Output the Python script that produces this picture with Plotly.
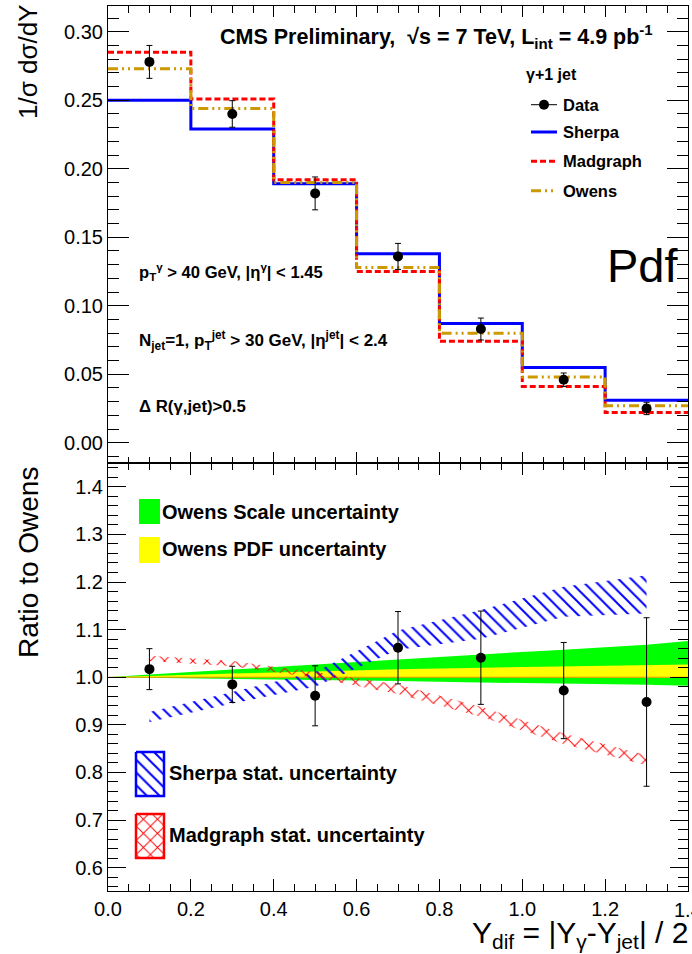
import plotly.graph_objects as go

# ---------------- data ----------------
edges = [0.0, 0.2, 0.4, 0.6, 0.8, 1.0, 1.2, 1.4]
centers = [0.1, 0.3, 0.5, 0.7, 0.9, 1.1, 1.3]
sherpa = [0.250, 0.229, 0.189, 0.138, 0.087, 0.055, 0.031]
madgraph = [0.285, 0.251, 0.192, 0.125, 0.074, 0.041, 0.022]
owens = [0.273, 0.244, 0.190, 0.128, 0.080, 0.048, 0.027]
data = [0.278, 0.240, 0.182, 0.136, 0.083, 0.046, 0.025]
data_err = [0.012, 0.0097, 0.012, 0.0095, 0.008, 0.0049, 0.0045]

ratio = [1.017, 0.985, 0.961, 1.062, 1.041, 0.972, 0.948]
ratio_err = [0.043, 0.038, 0.063, 0.076, 0.098, 0.101, 0.177]

sherpa_lo = [0.906, 0.945, 0.980, 1.058, 1.081, 1.127, 1.134]
sherpa_hi = [0.927, 0.969, 1.011, 1.098, 1.141, 1.190, 1.214]
mad_lo = [1.034, 1.023, 0.999, 0.965, 0.917, 0.860, 0.815]
mad_hi = [1.045, 1.034, 1.011, 0.985, 0.938, 0.882, 0.836]

band_x = [0.0, 0.1, 0.3, 0.5, 0.7, 0.9, 1.1, 1.3, 1.4]
scale_hi = [1.000, 1.006, 1.016, 1.027, 1.038, 1.048, 1.058, 1.068, 1.076]
scale_lo = [1.000, 0.999, 0.997, 0.994, 0.992, 0.989, 0.986, 0.984, 0.982]
pdf_hi = [1.000, 1.003, 1.008, 1.012, 1.017, 1.020, 1.023, 1.026, 1.027]
pdf_lo = [1.000, 1.000, 0.9995, 0.9995, 0.999, 0.999, 0.999, 0.999, 0.999]

# ---------------- style ----------------
W, H = 692, 954
PL, PR, PT, PB = 108, 688, 6, 891
SPLIT = 463
FONT = "Liberation Sans, Arial, Helvetica, sans-serif"
BLUE = "#0000ff"
RED = "#ff0000"
GOLD = "rgb(204,153,0)"
SHERPA_DASH = None
MAD_DASH = "6px,3px"
OWENS_DASH = "10px,4px,2px,4px,2px,4px"
SHERPA_PAT = dict(shape="\\", fgcolor=BLUE, bgcolor="rgba(0,0,0,0)", size=9, solidity=0.22, fgopacity=1)
MAD_PAT = dict(shape="x", fgcolor=RED, bgcolor="rgba(0,0,0,0)", size=10, solidity=0.18, fgopacity=1)


def fx(px):
    return (px - PL) / (PR - PL)


def fy(py):
    return (PB - py) / (PB - PT)


split_frac = fy(SPLIT)

fig = go.Figure()

# ---------- top panel ----------
for vals, col, dash in [(sherpa, BLUE, SHERPA_DASH), (madgraph, RED, MAD_DASH), (owens, GOLD, OWENS_DASH)]:
    fig.add_trace(go.Scatter(x=edges, y=vals + [vals[-1]], mode="lines", line_shape="hv",
                             line=dict(color=col, width=3, dash=dash), xaxis="x", yaxis="y",
                             hoverinfo="skip"))

fig.add_trace(go.Scatter(x=centers, y=data, mode="markers", xaxis="x", yaxis="y",
                         marker=dict(color="black", size=10),
                         error_y=dict(type="data", array=data_err, color="black", thickness=1, width=3)))

# ---------- lower panel ----------
def band(xs, lo, hi):
    return xs + xs[::-1], hi + lo[::-1]

bx, by = band(band_x, scale_lo, scale_hi)
fig.add_trace(go.Scatter(x=bx, y=by, fill="toself", fillcolor="#00ff00", mode="lines",
                         line=dict(width=0, color="rgba(0,0,0,0)"), xaxis="x2", yaxis="y2", hoverinfo="skip"))
bx, by = band(band_x, pdf_lo, pdf_hi)
fig.add_trace(go.Scatter(x=bx, y=by, fill="toself", fillcolor="#ffff00", mode="lines",
                         line=dict(width=0, color="rgba(0,0,0,0)"), xaxis="x2", yaxis="y2", hoverinfo="skip"))
fig.add_trace(go.Scatter(x=[band_x[0], band_x[-1]], y=[1.0, 1.0], mode="lines",
                         line=dict(width=1, color="rgb(230,150,0)"), xaxis="x2", yaxis="y2", hoverinfo="skip"))

bx, by = band(centers, sherpa_lo, sherpa_hi)
fig.add_trace(go.Scatter(x=bx, y=by, fill="toself", fillcolor="rgba(0,0,0,0)", mode="lines",
                         fillpattern=SHERPA_PAT,
                         line=dict(width=0, color="rgba(0,0,0,0)"), xaxis="x2", yaxis="y2", hoverinfo="skip"))
bx, by = band(centers, mad_lo, mad_hi)
fig.add_trace(go.Scatter(x=bx, y=by, fill="toself", fillcolor="rgba(0,0,0,0)", mode="lines",
                         fillpattern=MAD_PAT,
                         line=dict(width=0, color="rgba(0,0,0,0)"), xaxis="x2", yaxis="y2", hoverinfo="skip"))

fig.add_trace(go.Scatter(x=centers, y=ratio, mode="markers", xaxis="x2", yaxis="y2",
                         marker=dict(color="black", size=10),
                         error_y=dict(type="data", array=ratio_err, color="black", thickness=1, width=3)))

# ---------- legend keys (overlay axis in plot-area fractions) ----------
leg_x0, leg_x1, leg_xm = 531, 557, 544
leg_rows = {"Data": 104.7, "Sherpa": 132, "Madgraph": 161.3, "Owens": 190.7}
fig.add_trace(go.Scatter(x=[fx(leg_x0), fx(leg_x1)], y=[fy(leg_rows["Data"])] * 2, mode="lines",
                         line=dict(color="black", width=1), xaxis="x3", yaxis="y3", hoverinfo="skip"))
fig.add_trace(go.Scatter(x=[fx(leg_xm)], y=[fy(leg_rows["Data"])], mode="markers",
                         marker=dict(color="black", size=10), xaxis="x3", yaxis="y3", hoverinfo="skip"))
for name, col, dash in [("Sherpa", BLUE, SHERPA_DASH), ("Madgraph", RED, MAD_DASH), ("Owens", GOLD, OWENS_DASH)]:
    fig.add_trace(go.Scatter(x=[fx(leg_x0), fx(leg_x1)], y=[fy(leg_rows[name])] * 2, mode="lines",
                             line=dict(color=col, width=3, dash=dash), xaxis="x3", yaxis="y3", hoverinfo="skip"))

def box(x0, x1, y0, y1):
    return ([fx(x0), fx(x1), fx(x1), fx(x0), fx(x0)], [fy(y0), fy(y0), fy(y1), fy(y1), fy(y0)])

bxs, bys = box(136, 164, 752, 796)
fig.add_trace(go.Scatter(x=bxs, y=bys, fill="toself", fillcolor="rgba(0,0,0,0)", mode="lines",
                         fillpattern=SHERPA_PAT,
                         line=dict(color=BLUE, width=2.5), xaxis="x3", yaxis="y3", hoverinfo="skip"))
bxs, bys = box(136, 164, 814, 858)
fig.add_trace(go.Scatter(x=bxs, y=bys, fill="toself", fillcolor="rgba(0,0,0,0)", mode="lines",
                         fillpattern=MAD_PAT,
                         line=dict(color=RED, width=2.5), xaxis="x3", yaxis="y3", hoverinfo="skip"))

shapes = [
    dict(type="rect", xref="paper", yref="paper", x0=fx(139), x1=fx(160), y0=fy(524), y1=fy(499),
         fillcolor="#00ff00", line=dict(width=0)),
    dict(type="rect", xref="paper", yref="paper", x0=fx(139), x1=fx(160), y0=fy(563), y1=fy(537),
         fillcolor="#ffff00", line=dict(width=0)),
]

# ---------- texts ----------
def ann(text, px, py, size, xanchor="left", bold=True, angle=0, yanchor="middle"):
    return dict(text=(f"<b>{text}</b>" if bold else text), x=fx(px), y=fy(py), xref="paper", yref="paper",
                xanchor=xanchor, yanchor=yanchor, showarrow=False, textangle=angle,
                font=dict(family=FONT, size=size, color="black"))

annotations = [
    ann("CMS Preliminary,  √s = 7 TeV, L<sub>int</sub> = 4.9 pb<sup>-1</sup>", 218, 36, 21.5),
    ann("γ+1 jet", 524, 74, 16),
    ann("Data", 561, leg_rows["Data"], 16.5),
    ann("Sherpa", 561, leg_rows["Sherpa"], 16.5),
    ann("Madgraph", 561, leg_rows["Madgraph"], 16.5),
    ann("Owens", 561, leg_rows["Owens"], 16.5),
    ann("Pdf", 680, 265, 47, xanchor="right", bold=False),
    ann("p<sub>T</sub><sup>γ</sup> &gt; 40 GeV, |η<sup>γ</sup>| &lt; 1.45", 137, 272, 16.6),
    ann("N<sub>jet</sub>=1, p<sub>T</sub><sup>jet</sup> &gt; 30 GeV, |η<sup>jet</sup>| &lt; 2.4", 137, 340, 17),
    ann("Δ R(γ,jet)&gt;0.5", 137, 406, 16.8),
    ann("Owens Scale uncertainty", 160, 512, 20),
    ann("Owens PDF uncertainty", 160, 549, 20),
    ann("Sherpa stat. uncertainty", 167, 773, 20),
    ann("Madgraph stat. uncertainty", 167, 835, 20),
    ann("1/σ dσ/dY", 28, 62, 26, xanchor="center", bold=False, angle=-90),
    ann("Ratio to Owens", 28, 563, 28, xanchor="center", bold=False, angle=-90),
    ann("Y<sub>dif</sub> = |Y<sub>γ</sub>-Y<sub>jet</sub>| / 2", 690, 934, 30, xanchor="right", bold=False),
    ann("1.4", 688, 910, 20, xanchor="center", bold=False),
]

axis_common = dict(showline=True, linecolor="black", linewidth=1, mirror="allticks", ticks="inside",
                   tickcolor="black", tickwidth=1, showgrid=False, zeroline=False,
                   tickfont=dict(family=FONT, size=20, color="black"))

fig.update_layout(
    width=W, height=H,
    margin=dict(l=PL, r=W - PR, t=PT, b=H - PB, pad=0),
    paper_bgcolor="white", plot_bgcolor="rgba(0,0,0,0)",
    showlegend=False,
    xaxis=dict(domain=[0, 1], anchor="y", range=[0, 1.4], dtick=0.2, tick0=0, ticklen=11,
               showticklabels=False, minor=dict(dtick=0.05, ticklen=6.5, ticks="inside", tickcolor="black"),
               **axis_common),
    yaxis=dict(domain=[split_frac, 1], anchor="x", range=[-0.0148, 0.3188], dtick=0.05, tick0=0,
               tickformat=".2f", ticklen=21,
               minor=dict(dtick=0.01, ticklen=11, ticks="inside", tickcolor="black"), **axis_common),
    xaxis2=dict(domain=[0, 1], anchor="y2", range=[0, 1.4], dtick=0.2, tick0=0, ticklen=12,
                tickformat=".1f",
                minor=dict(dtick=0.05, ticklen=7, ticks="inside", tickcolor="black"),
                **axis_common),
    yaxis2=dict(domain=[0, split_frac], anchor="x2", range=[0.551, 1.450], dtick=0.1, tick0=0,
                tickformat=".1f", ticklen=18,
                minor=dict(dtick=0.02, ticklen=10, ticks="inside", tickcolor="black"), **axis_common),
    xaxis3=dict(domain=[0, 1], anchor="y3", range=[0, 1], visible=False, fixedrange=True),
    yaxis3=dict(domain=[0, 1], anchor="x3", range=[0, 1], visible=False, fixedrange=True),
    shapes=shapes,
    annotations=annotations,
)

fig.write_html("out.html")
